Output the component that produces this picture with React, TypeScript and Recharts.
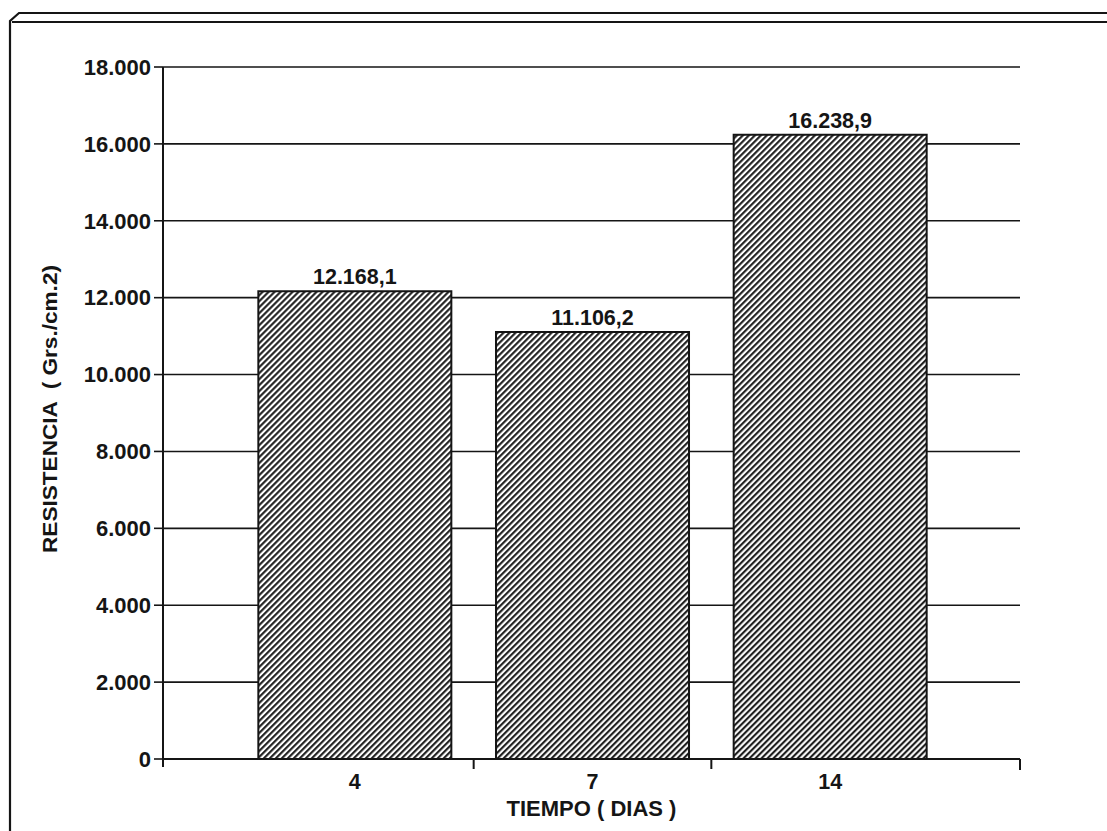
import React from 'react';
import { BarChart, Bar, XAxis, YAxis, CartesianGrid, LabelList } from 'recharts';

const categories = ['4', '7', '14'];
const resistencia = [12168.1, 11106.2, 16238.9];
const yTicks = [0, 2000, 4000, 6000, 8000, 10000, 12000, 14000, 16000, 18000];

const data = categories.map((c, i) => ({ dia: c, valor: resistencia[i] }));

const FONT = '"Liberation Sans", Arial, Helvetica, sans-serif';
const INK = '#151515';

const thousands = (n: number) => {
  const s = Math.floor(Math.abs(n)).toString();
  return s.replace(/\B(?=(\d{3})+(?!\d))/g, '.');
};
const fmtTick = (v: number) => thousands(v);
const fmtValue = (v: number) => {
  const int = Math.floor(v);
  const dec = Math.round((v - int) * 10);
  return `${thousands(int)},${dec}`;
};

const PAD = { left: 73, right: 71 };

const YLabel = (p: any) => {
  const vb = p.viewBox || { x: 0, y: 0, width: 0, height: 0 };
  const cx = vb.x + 57;
  const cy = vb.y + vb.height / 2 - 4;
  return (
    <text
      x={cx}
      y={cy}
      transform={`rotate(-90, ${cx}, ${cy})`}
      textAnchor="middle"
      fontFamily={FONT}
      fontWeight={700}
      fontSize={20}
      fill={INK}
      textLength={288}
      lengthAdjust="spacingAndGlyphs"
      style={{ whiteSpace: 'pre' }}
    >
      {'RESISTENCIA  ( Grs./cm.2)'}
    </text>
  );
};

const XLabel = (p: any) => {
  const vb = p.viewBox || { x: 0, y: 0, width: 0, height: 0 };
  return (
    <text
      x={vb.x + vb.width / 2}
      y={vb.y + 57}
      textAnchor="middle"
      fontFamily={FONT}
      fontWeight={700}
      fontSize={22}
      fill={INK}
    >
      TIEMPO ( DIAS )
    </text>
  );
};

const CatTick = (p: any) => {
  const { x, y, payload, index, visibleTicksCount } = p;
  const half = payload && typeof payload.offset === 'number' ? payload.offset : 0;
  const count = visibleTicksCount ?? categories.length;
  const last = index === count - 1;
  const y1 = y - 15;
  const y2 = y - 5;
  return (
    <g>
      {!last && half > 0 && (
        <line x1={x + half} y1={y1} x2={x + half} y2={y2} stroke={INK} strokeWidth={2} />
      )}
      {index === 0 && half > 0 && (
        <line x1={x - half - PAD.left} y1={y1} x2={x - half - PAD.left} y2={y2 - 2} stroke={INK} strokeWidth={2} />
      )}
      {last && half > 0 && (
        <line x1={x + half + PAD.right} y1={y1} x2={x + half + PAD.right} y2={y2 + 1} stroke={INK} strokeWidth={2} />
      )}
      <text
        x={x}
        y={y}
        dy="0.71em"
        textAnchor="middle"
        fontFamily={FONT}
        fontWeight={700}
        fontSize={21.5}
        fill={INK}
      >
        {payload.value}
      </text>
    </g>
  );
};

export default function App() {
  return (
    <div style={{ position: 'absolute', left: 0, top: 0, width: 1107, height: 831, background: '#fff' }}>
      <BarChart
        width={1107}
        height={831}
        data={data}
        margin={{ top: 67, right: 87, left: 0, bottom: 0 }}
        barCategoryGap="9.4%"
      >
        <defs>
          <pattern id="hatch" width="4.24" height="4.24" patternUnits="userSpaceOnUse" patternTransform="rotate(45)">
            <rect width="4.24" height="4.24" fill="#fff" />
            <line x1="2" y1="-1" x2="2" y2="5.5" stroke="#111" strokeWidth="2" />
          </pattern>
        </defs>
        <CartesianGrid vertical={false} stroke={INK} strokeWidth={1.6} />
        <XAxis
          dataKey="dia"
          type="category"
          padding={PAD}
          height={72}
          axisLine={{ stroke: INK, strokeWidth: 2 }}
          tickLine={false}
          tickSize={0}
          tickMargin={15}
          interval={0}
          tick={<CatTick />}
          label={{ content: XLabel }}
        />
        <YAxis
          width={163}
          domain={[0, 18000]}
          ticks={yTicks}
          interval={0}
          tickFormatter={fmtTick}
          axisLine={{ stroke: INK, strokeWidth: 2 }}
          tickLine={{ stroke: INK, strokeWidth: 1.6 }}
          tickSize={9}
          tickMargin={3}
          tick={{ fontFamily: FONT, fontWeight: 700, fontSize: 22, fill: INK }}
          label={{ content: YLabel }}
        />
        <YAxis
          yAxisId="r"
          orientation="right"
          width={0}
          domain={[0, 18000]}
          tick={false}
          tickLine={false}
          axisLine={{ stroke: INK, strokeWidth: 2 }}
        />
        <Bar
          dataKey="valor"
          fill="url(#hatch)"
          stroke={INK}
          strokeWidth={2}
          isAnimationActive={false}
        >
          <LabelList
            dataKey="valor"
            position="top"
            offset={7}
            formatter={(v: any) => fmtValue(Number(v))}
            style={{ fontFamily: FONT, fontWeight: 700, fontSize: 21.5, fill: INK }}
          />
        </Bar>
      </BarChart>
      <svg
        width={1107}
        height={831}
        style={{ position: 'absolute', left: 0, top: 0, pointerEvents: 'none' }}
      >
        <path d="M10,831 V21 L19,13 H1107" fill="none" stroke={INK} strokeWidth={2.2} />
        <path d="M12,22 H1107" fill="none" stroke={INK} strokeWidth={2} />
      </svg>
    </div>
  );
}
